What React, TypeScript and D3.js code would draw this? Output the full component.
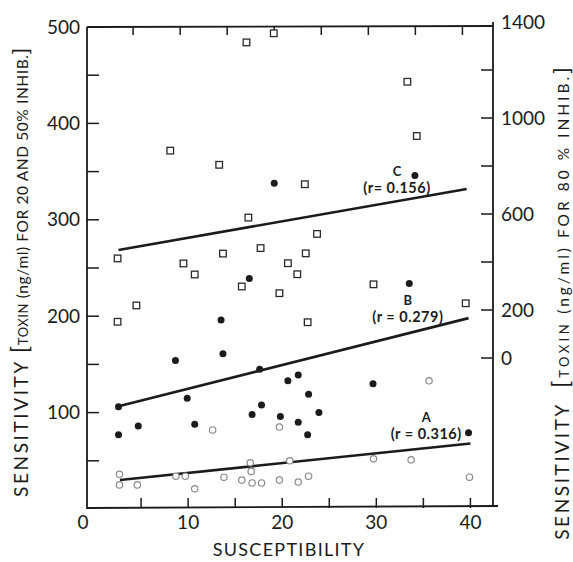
import React from 'react';
import * as d3 from 'd3';

// open circles, curve A (20% inhib, left axis)
const seriesA = [
  { x: 12.6, y: 82 }, { x: 19.7, y: 85 }, { x: 2.7, y: 36 }, { x: 2.7, y: 25 },
  { x: 4.6, y: 25 }, { x: 8.7, y: 34 }, { x: 9.7, y: 34 }, { x: 10.7, y: 21 },
  { x: 13.8, y: 33 }, { x: 15.7, y: 30 }, { x: 16.8, y: 27 }, { x: 17.8, y: 27 },
  { x: 19.7, y: 30 }, { x: 16.6, y: 48 }, { x: 16.7, y: 39 }, { x: 20.8, y: 50 },
  { x: 35.6, y: 133 }, { x: 29.7, y: 52 }, { x: 33.7, y: 51 }, { x: 21.7, y: 28 },
  { x: 22.8, y: 34 }, { x: 39.9, y: 33 },
];

// filled circles, curve B (50% inhib, left axis)
const seriesB = [
  { x: 19.15, y: 338 }, { x: 16.5, y: 239 }, { x: 34.1, y: 346 }, { x: 33.5, y: 234 },
  { x: 13.5, y: 196 }, { x: 8.65, y: 154 }, { x: 13.7, y: 161 }, { x: 17.6, y: 145 },
  { x: 20.6, y: 133 }, { x: 21.7, y: 139 }, { x: 9.9, y: 115 }, { x: 2.6, y: 106 },
  { x: 17.8, y: 108 }, { x: 16.8, y: 98 }, { x: 19.8, y: 96 }, { x: 4.7, y: 86 },
  { x: 10.7, y: 88 }, { x: 2.6, y: 77 }, { x: 29.65, y: 130 }, { x: 22.8, y: 119 },
  { x: 23.9, y: 100 }, { x: 21.7, y: 90 }, { x: 22.7, y: 77 }, { x: 39.8, y: 79 },
];

// open squares, curve C (80% inhib, right axis)
const seriesC = [
  { x: 16.2, y: 1315 }, { x: 19.1, y: 1353 }, { x: 8.1, y: 864 }, { x: 13.3, y: 805 },
  { x: 16.4, y: 585 }, { x: 2.5, y: 415 }, { x: 9.5, y: 394 }, { x: 13.7, y: 435 },
  { x: 17.7, y: 458 }, { x: 10.7, y: 348 }, { x: 15.7, y: 298 }, { x: 20.6, y: 395 },
  { x: 19.7, y: 270 }, { x: 21.6, y: 349 }, { x: 4.5, y: 219 }, { x: 2.5, y: 151 },
  { x: 33.3, y: 1151 }, { x: 34.3, y: 925 }, { x: 22.4, y: 724 }, { x: 23.7, y: 517 },
  { x: 22.5, y: 436 }, { x: 29.7, y: 307 }, { x: 39.5, y: 228 }, { x: 22.7, y: 149 },
];

// regression lines (endpoints)
const fitA = [{ x: 2.75, y: 30 }, { x: 40, y: 68 }];
const fitB = [{ x: 2.4, y: 106 }, { x: 39.8, y: 198 }];
const fitC = [{ x: 2.6, y: 450 }, { x: 39.6, y: 704 }];

// label anchor = baseline of the "(r = ...)" line
const fitLabels = [
  { name: 'A', r: '(r = 0.316)', x: 35.3, y: 73, axis: 'left' },
  { name: 'B', r: '(r = 0.279)', x: 33.35, y: 194, axis: 'left' },
  { name: 'C', r: '(r= 0.156)', x: 32.2, y: 688, axis: 'right' },
];

const xTicks = [0, 10, 20, 30, 40];
const xMinor = [5, 10, 15, 20, 25, 30, 35, 40];
const leftTicks = [100, 200, 300, 400, 500];
const leftMinor = [50, 100, 150, 200, 250, 300, 350, 400, 450];
const rightTicks = [0, 200, 600, 1000, 1400];
const rightMinor = [0, 200, 400, 600, 800, 1000, 1200];

const W = 573;
const H = 562;
const font = "Lato, 'Open Sans', sans-serif";
const ink = '#1b1b1b';

export default function App() {
  const x = d3.scaleLinear().domain([-0.75, 42.4]).range([87, 493]);
  const yL = d3.scaleLinear().domain([0, 500]).range([509, 27]);
  const yR = d3.scaleLinear().domain([0, 1400]).range([358, 22]);

  const lineL = d3.line<{ x: number; y: number }>().x(d => x(d.x)).y(d => yL(d.y));
  const lineR = d3.line<{ x: number; y: number }>().x(d => x(d.x)).y(d => yR(d.y));

  const left = 87, right = 493, top = 27, bottom = 508;

  return (
    <svg width={W} height={H} style={{ position: 'absolute', left: 0, top: 0, background: '#fff' }}
      fontFamily={font}>
      <rect width={W} height={H} fill="#fff" />

      {/* frame */}
      <g stroke={ink} strokeWidth={1.8} fill="none">
        <line x1={left} y1={top} x2={left} y2={bottom + 1} />
        <line x1={left} y1={bottom} x2={right + 5} y2={bottom - 2} />
        <line x1={left} y1={top} x2={right} y2={top - 1} />
        <line x1={right} y1={22} x2={right} y2={bottom - 2} />
      </g>

      {/* ticks */}
      <g stroke={ink} strokeWidth={1.5}>
        {xMinor.map(t => (
          <line key={'b' + t} x1={x(t)} x2={x(t)} y1={bottom} y2={bottom - 10} />
        ))}
        <g transform="translate(-8,0)">
          {xMinor.map(t => (
            <line key={'t' + t} x1={x(t)} x2={x(t)} y1={top - 1} y2={top + 8} />
          ))}
        </g>
        {leftMinor.map(t => (
          <line key={'l' + t} x1={left} x2={left + 12} y1={yL(t)} y2={yL(t)} />
        ))}
        {rightMinor.map(t => (
          <line key={'r' + t} x1={right} x2={right - 12} y1={yR(t)} y2={yR(t)} />
        ))}
      </g>

      {/* tick labels */}
      <g fill={ink} fontSize={19}>
        {xTicks.map(t => (
          <text key={t} x={x(t) + (t === 0 ? -11 : 0)} y={529} textAnchor="middle">{t}</text>
        ))}
        {leftTicks.map(t => (
          <text key={t} x={80} y={yL(t)} dy="0.35em" textAnchor="end">{t}</text>
        ))}
        {rightTicks.map(t => (
          <text key={t} x={501} y={yR(t)} dy="0.35em" textAnchor="start">{t}</text>
        ))}
      </g>

      {/* axis titles */}
      <text x={289} y={556} textAnchor="middle" fontSize={18} letterSpacing={1.3} fill={ink}>
        SUSCEPTIBILITY
      </text>
      <text transform="translate(28,272) rotate(-90)" textAnchor="middle" fill={ink} fontSize={15.5}
        letterSpacing={0.6}>
        <tspan fontSize={19} letterSpacing={2.6}>SENSITIVITY</tspan>
        <tspan fontSize={24} dx={6}>[</tspan>
        <tspan fontSize={13}>TOXIN</tspan>
        <tspan> (ng/ml) </tspan>
        <tspan>FOR 20 AND 50% INHIB.</tspan>
        <tspan fontSize={22}>]</tspan>
      </text>
      <text transform="translate(569,302) rotate(-90)" textAnchor="middle" fill={ink} fontSize={15.5}
        letterSpacing={3}>
        <tspan fontSize={19} letterSpacing={2.6}>SENSITIVITY</tspan>
        <tspan fontSize={24} dx={14}>[</tspan>
        <tspan fontSize={13} letterSpacing={3.5}>TOXIN</tspan>
        <tspan> (ng/ml) </tspan>
        <tspan>FOR 80 % INHIB.</tspan>
        <tspan fontSize={22}>]</tspan>
      </text>

      {/* regression lines */}
      <g stroke={ink} strokeWidth={2.6} fill="none">
        <path d={lineL(fitA) || ''} />
        <path d={lineL(fitB) || ''} />
        <path d={lineR(fitC) || ''} />
      </g>

      {/* data */}
      <g fill="#fff" stroke="#8a8a8a" strokeWidth={1.2}>
        {seriesA.map((d, i) => (
          <circle key={i} cx={x(d.x)} cy={yL(d.y)} r={3.2} />
        ))}
      </g>
      <g fill={ink}>
        {seriesB.map((d, i) => (
          <circle key={i} cx={x(d.x)} cy={yL(d.y)} r={3.5} />
        ))}
      </g>
      <g fill="#fff" stroke="#2a2a2a" strokeWidth={1.3}>
        {seriesC.map((d, i) => (
          <rect key={i} x={x(d.x) - 3.3} y={yR(d.y) - 3.3} width={6.6} height={6.6} />
        ))}
      </g>

      {/* fit labels */}
      <g fill={ink} fontWeight="bold" textAnchor="middle">
        {fitLabels.map(l => {
          const yy = l.axis === 'left' ? yL(l.y) : yR(l.y);
          return (
            <g key={l.name}>
              <text x={x(l.x)} y={yy - 17} fontSize={13}>{l.name}</text>
              <text x={x(l.x)} y={yy} fontSize={14.5} letterSpacing={0.5}>{l.r}</text>
            </g>
          );
        })}
      </g>
    </svg>
  );
}
